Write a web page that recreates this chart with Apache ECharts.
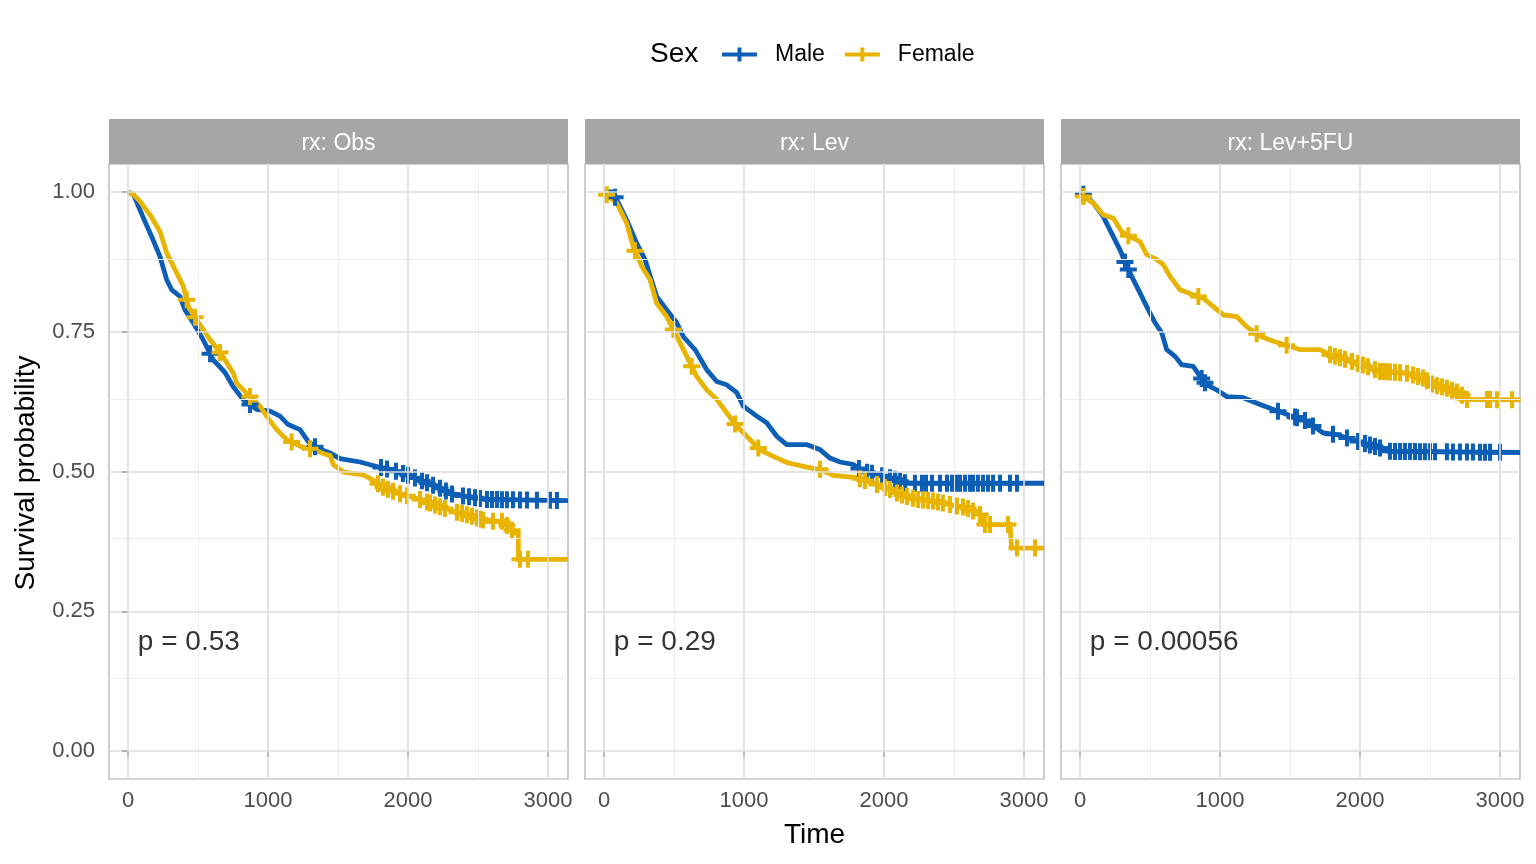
<!DOCTYPE html>
<html>
<head>
<meta charset="utf-8">
<script src="https://cdn.jsdelivr.net/npm/echarts@6/dist/echarts.min.js"></script>
<style>html,body{margin:0;padding:0;background:#fff}#c{width:1536px;height:864px}</style>
</head>
<body>
<div id="c"></div>
<script>
// ---------------- DATA ----------------
const panelNames = ['rx: Obs', 'rx: Lev', 'rx: Lev+5FU'];
const pValueLabels = ['p = 0.53', 'p = 0.29', 'p = 0.00056'];
const groupNames = ['Male', 'Female'];
const xTickValues = [0, 1000, 2000, 3000];
const xMinorValues = [500, 1500, 2500];
const yTickValues = [0, 0.25, 0.5, 0.75, 1];
const yMinorValues = [0.125, 0.375, 0.625, 0.875];

// Obs
const obsMaleTime = [0, 40, 107, 169, 229, 276, 312, 371, 407, 466, 536, 607, 693, 750, 821, 919, 1014, 1086, 1143, 1229, 1286, 1348, 1443, 1514, 1657, 1776, 1919, 2014, 2133, 2250, 2321, 2562, 3143];
const obsMaleSurv = [1, 0.995, 0.955, 0.92, 0.884, 0.843, 0.825, 0.813, 0.789, 0.766, 0.736, 0.70, 0.677, 0.652, 0.629, 0.611, 0.608, 0.599, 0.584, 0.575, 0.554, 0.542, 0.533, 0.523, 0.517, 0.509, 0.5, 0.492, 0.48, 0.468, 0.459, 0.45, 0.448];
const obsMaleCensor = [586, 871, 1336, 1807, 1850, 1914, 1964, 2000, 2050, 2100, 2136, 2179, 2229, 2271, 2314, 2393, 2436, 2479, 2514, 2564, 2600, 2636, 2671, 2707, 2750, 2800, 2850, 2921, 3014, 3064];
const obsFemaleTime = [0, 40, 86, 157, 229, 276, 336, 395, 431, 491, 586, 669, 752, 776, 871, 943, 990, 1062, 1134, 1229, 1324, 1419, 1443, 1467, 1538, 1681, 1776, 1800, 1919, 2086, 2205, 2324, 2443, 2562, 2681, 2700, 2764, 2788, 2788, 3143];
const obsFemaleSurv = [1, 0.995, 0.983, 0.959, 0.929, 0.891, 0.861, 0.831, 0.795, 0.771, 0.736, 0.709, 0.676, 0.658, 0.634, 0.617, 0.599, 0.575, 0.557, 0.545, 0.539, 0.530, 0.529, 0.512, 0.499, 0.494, 0.481, 0.474, 0.462, 0.450, 0.439, 0.429, 0.421, 0.411, 0.411, 0.405, 0.39, 0.39, 0.343, 0.343];
const obsFemaleCensor = [419, 479, 657, 871, 1169, 1300, 1786, 1821, 1857, 1893, 1943, 1993, 2086, 2136, 2157, 2193, 2229, 2264, 2350, 2386, 2421, 2457, 2493, 2514, 2536, 2607, 2671, 2707, 2743, 2800, 2857];

// Lev
const levMaleTime = [0, 55, 91, 162, 234, 293, 376, 448, 519, 567, 650, 734, 805, 876, 948, 995, 1091, 1162, 1234, 1305, 1448, 1471, 1543, 1614, 1686, 1781, 1852, 1948, 2043, 2162, 3143];
const levMaleSurv = [1, 1.0, 0.986, 0.95, 0.908, 0.879, 0.813, 0.789, 0.766, 0.741, 0.718, 0.682, 0.661, 0.655, 0.641, 0.617, 0.599, 0.587, 0.563, 0.548, 0.548, 0.546, 0.539, 0.524, 0.517, 0.5125, 0.5, 0.495, 0.489, 0.479, 0.479];
const levMaleCensor = [79, 1821, 1879, 1914, 1986, 2043, 2079, 2114, 2150, 2221, 2271, 2300, 2343, 2400, 2450, 2486, 2521, 2543, 2579, 2614, 2636, 2671, 2707, 2743, 2779, 2829, 2900, 2950];
const levFemaleTime = [0, 19, 91, 162, 209, 269, 329, 376, 448, 519, 591, 662, 734, 805, 876, 948, 1019, 1114, 1209, 1305, 1448, 1543, 1638, 1805, 1876, 1971, 2043, 2114, 2233, 2352, 2471, 2590, 2686, 2710, 2900, 2912, 2912, 3143];
const levFemaleSurv = [1, 0.995, 0.98, 0.944, 0.902, 0.867, 0.843, 0.801, 0.777, 0.742, 0.706, 0.670, 0.646, 0.629, 0.605, 0.581, 0.563, 0.539, 0.527, 0.516, 0.508, 0.504, 0.493, 0.489, 0.483, 0.475, 0.468, 0.459, 0.45, 0.447, 0.441, 0.435, 0.423, 0.405, 0.405, 0.405, 0.363, 0.363];
const levFemaleCensor = [19, 221, 495, 626, 936, 1102, 1543, 1829, 1864, 1950, 2007, 2043, 2093, 2129, 2164, 2207, 2243, 2279, 2314, 2350, 2386, 2421, 2471, 2521, 2564, 2600, 2636, 2686, 2721, 2757, 2886, 2950, 3079];

// Lev+5FU
const lev5fuMaleTime = [0, 30, 95, 166, 226, 286, 334, 369, 429, 488, 536, 584, 619, 679, 726, 809, 857, 905, 976, 1048, 1166, 1286, 1381, 1500, 1595, 1667, 1738, 1834, 1905, 2024, 2143, 2214, 3143];
const lev5fuMaleSurv = [1, 0.995, 0.98, 0.956, 0.926, 0.896, 0.867, 0.849, 0.819, 0.789, 0.766, 0.748, 0.718, 0.706, 0.691, 0.688, 0.670, 0.655, 0.646, 0.634, 0.632, 0.620, 0.611, 0.600, 0.593, 0.581, 0.569, 0.566, 0.560, 0.551, 0.542, 0.536, 0.534];
const lev5fuMaleCensor = [24, 321, 345, 869, 893, 1414, 1536, 1550, 1607, 1664, 1807, 1907, 1986, 2036, 2071, 2107, 2143, 2214, 2250, 2286, 2321, 2357, 2393, 2429, 2464, 2500, 2536, 2621, 2664, 2714, 2764, 2807, 2857, 2893, 2929, 3000];
const lev5fuFemaleTime = [0, 24, 95, 166, 238, 298, 357, 429, 476, 548, 595, 643, 714, 809, 881, 952, 1024, 1119, 1190, 1286, 1381, 1500, 1571, 1714, 1786, 1905, 2048, 2143, 2333, 2452, 2524, 2619, 2714, 2762, 3143];
const lev5fuFemaleSurv = [1, 0.992, 0.98, 0.959, 0.953, 0.929, 0.920, 0.911, 0.888, 0.879, 0.870, 0.849, 0.825, 0.816, 0.810, 0.795, 0.780, 0.777, 0.759, 0.742, 0.733, 0.724, 0.718, 0.718, 0.709, 0.700, 0.688, 0.679, 0.676, 0.667, 0.655, 0.649, 0.640, 0.629, 0.628];
const lev5fuFemaleCensor = [24, 345, 845, 1262, 1476, 1786, 1821, 1857, 1893, 1943, 1986, 2021, 2057, 2107, 2143, 2164, 2193, 2214, 2250, 2286, 2336, 2379, 2414, 2450, 2479, 2514, 2550, 2586, 2621, 2657, 2693, 2729, 2764, 2907, 2929, 2979, 3086];

// ---------------- LAYOUT / STYLE ----------------
const FONT = "'Liberation Sans', Arial, Helvetica, sans-serif";
const COLORS = { Male: '#0C5EB6', Female: '#E8B400' };
const PANEL_LEFT = [109, 585, 1061];
const PANEL_TOP = 164, PANEL_W = 459, PANEL_H = 615;
const STRIP_TOP = 119, STRIP_H = 45;
const X_MIN = -136, X_MAX = 3143, Y_MIN = -0.05, Y_MAX = 1.05;
const PVALUE_POS = [70, 0.194];
const PLUS = 'path://M6.5,0H10.5V6.5H17V10.5H10.5V17H6.5V10.5H0V6.5H6.5Z';
const LEGEND_ICON = 'path://M0,5H15.5V0H19.5V5H35V9H19.5V14H15.5V9H0Z';

const panels = [
  { Male: [obsMaleTime, obsMaleSurv, obsMaleCensor], Female: [obsFemaleTime, obsFemaleSurv, obsFemaleCensor] },
  { Male: [levMaleTime, levMaleSurv, levMaleCensor], Female: [levFemaleTime, levFemaleSurv, levFemaleCensor] },
  { Male: [lev5fuMaleTime, lev5fuMaleSurv, lev5fuMaleCensor], Female: [lev5fuFemaleTime, lev5fuFemaleSurv, lev5fuFemaleCensor] }
];

function curveAt(times, surv, t) {
  for (let i = times.length - 1; i >= 0; i--) {
    if (times[i] <= t) {
      if (i === times.length - 1) return surv[i];
      const t0 = times[i], t1 = times[i + 1];
      if (t1 === t0) return surv[i + 1];
      return surv[i] + (surv[i + 1] - surv[i]) * (t - t0) / (t1 - t0);
    }
  }
  return surv[0];
}

const grids = [], xAxes = [], yAxes = [], series = [], graphics = [];
const tickStyle = { show: true, length: 6, lineStyle: { color: '#333333', width: 2 } };

panels.forEach((p, i) => {
  grids.push({ left: PANEL_LEFT[i], top: PANEL_TOP, width: PANEL_W, height: PANEL_H, show: true,
    backgroundColor: '#ffffff', borderColor: '#ABABAB', borderWidth: 1.2, containLabel: false });
  xAxes.push({ type: 'value', gridIndex: i, min: X_MIN, max: X_MAX,
    axisLine: { show: false }, splitLine: { show: false },
    axisTick: Object.assign({}, tickStyle, { customValues: xTickValues }),
    axisLabel: { customValues: xTickValues, margin: 11, fontSize: 22, color: '#4D4D4D', fontFamily: FONT,
      formatter: v => String(v) } });
  yAxes.push({ type: 'value', gridIndex: i, min: Y_MIN, max: Y_MAX,
    axisLine: { show: false }, splitLine: { show: false },
    axisTick: Object.assign({}, tickStyle, { show: i === 0, customValues: yTickValues }),
    axisLabel: { show: i === 0, customValues: yTickValues, margin: 14, fontSize: 22, color: '#4D4D4D', fontFamily: FONT,
      formatter: v => v.toFixed(2) } });

  // grid lines (major + minor) drawn via markLine on the axis scales
  const minor = { color: '#EDEDED', width: 1, type: 'solid' };
  const major = { color: '#DDDDDD', width: 1.6, type: 'solid' };
  const mlData = [];
  xMinorValues.forEach(v => mlData.push({ xAxis: v, lineStyle: minor }));
  yMinorValues.forEach(v => mlData.push({ yAxis: v, lineStyle: minor }));
  xTickValues.forEach(v => mlData.push({ xAxis: v, lineStyle: major }));
  yTickValues.forEach(v => mlData.push({ yAxis: v, lineStyle: major }));
  series.push({ type: 'line', xAxisIndex: i, yAxisIndex: i, data: [], z: 1, silent: true,
    markLine: { silent: true, symbol: ['none', 'none'], label: { show: false }, animation: false,
      lineStyle: { type: 'solid' }, emphasis: { disabled: true }, data: mlData } });

  groupNames.forEach(g => {
    const [tArr, sArr] = p[g];
    series.push({ type: 'line', name: g, xAxisIndex: i, yAxisIndex: i, z: 3,
      data: tArr.map((t, k) => [t, sArr[k]]), showSymbol: false, symbol: 'none',
      lineStyle: { color: COLORS[g], width: 4.8, join: 'miter' }, itemStyle: { color: COLORS[g] },
      emphasis: { disabled: true }, clip: true });
  });
  groupNames.forEach(g => {
    const [tArr, sArr, cArr] = p[g];
    series.push({ type: 'scatter', name: g, xAxisIndex: i, yAxisIndex: i, z: 4,
      data: cArr.map(t => [t, curveAt(tArr, sArr, t)]), symbol: PLUS, symbolSize: 17,
      itemStyle: { color: COLORS[g], opacity: 1 }, emphasis: { disabled: true }, clip: true });
  });
  series.push({ type: 'scatter', xAxisIndex: i, yAxisIndex: i, z: 5, silent: true,
    data: [PVALUE_POS], symbolSize: 0,
    label: { show: true, position: 'right', distance: 0, formatter: pValueLabels[i],
      fontSize: 28, color: '#000000', fontFamily: FONT } });

  graphics.push({ type: 'rect', left: PANEL_LEFT[i], top: STRIP_TOP, shape: { width: PANEL_W, height: STRIP_H },
    style: { fill: '#A6A6A6' }, silent: true });
  graphics.push({ type: 'text', x: PANEL_LEFT[i] + PANEL_W / 2, y: STRIP_TOP + STRIP_H / 2 + 2, silent: true,
    style: { text: panelNames[i], fill: '#ffffff', font: '23px ' + FONT, textAlign: 'center', textVerticalAlign: 'middle' } });
});

graphics.push({ type: 'text', x: 650, y: 54, silent: true,
  style: { text: 'Sex', fill: '#000000', font: '28px ' + FONT, textAlign: 'left', textVerticalAlign: 'middle' } });
graphics.push({ type: 'text', x: 26, y: 473, rotation: Math.PI / 2, silent: true,
  style: { text: 'Survival probability', fill: '#000000', font: '28px ' + FONT, textAlign: 'center', textVerticalAlign: 'middle' } });
graphics.push({ type: 'text', x: 814.5, y: 835, silent: true,
  style: { text: 'Time', fill: '#000000', font: '28px ' + FONT, textAlign: 'center', textVerticalAlign: 'middle' } });

const chart = echarts.init(document.getElementById('c'), null, { renderer: 'canvas' });
chart.setOption({
  animation: false,
  backgroundColor: '#ffffff',
  textStyle: { fontFamily: FONT },
  legend: {
    left: 722, top: 43, padding: 0, itemGap: 20, itemWidth: 35, itemHeight: 14, selectedMode: false,
    data: groupNames.map(g => ({ name: g, icon: LEGEND_ICON, itemStyle: { color: COLORS[g] } })),
    textStyle: { fontSize: 23, color: '#000000', fontFamily: FONT, padding: [0, 0, 0, 13] }
  },
  grid: grids, xAxis: xAxes, yAxis: yAxes, series: series, graphic: graphics
});
</script>
</body>
</html>
